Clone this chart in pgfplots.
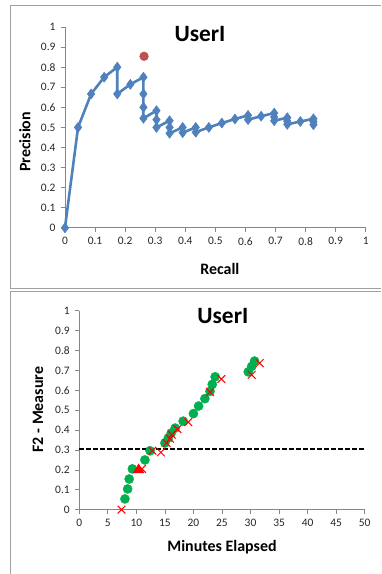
\documentclass[border=0pt]{standalone}
\usepackage{pgfplots}
\pgfplotsset{compat=1.18}
\usepackage{fontspec}
\setmainfont{Carlito}
\definecolor{xblue}{HTML}{4F81BD}
\definecolor{xgreen}{HTML}{00B050}
\definecolor{xred}{HTML}{FF0000}
\definecolor{xdot}{HTML}{C0504D}
\definecolor{xaxis}{HTML}{868686}
\definecolor{xframe}{HTML}{A0A0A0}
\pgfplotsset{excel/.style={
  scale only axis, axis lines*=left,
  axis line style={xaxis, line width=0.7bp},
  tick style={xaxis, line width=0.7bp},
  tick align=outside, major tick length=4bp,
  tick label style={font=\fontsize{11.5}{13}\selectfont, text=black!85},
  /pgf/number format/assume math mode=true,
  clip=false,
  title style={anchor=center, font=\bfseries\fontsize{23.5}{26}\selectfont},
  xlabel style={anchor=center, font=\bfseries\fontsize{16}{18}\selectfont},
  ylabel style={anchor=center, font=\bfseries\fontsize{16}{18}\selectfont},
}}
\begin{document}
\begin{tikzpicture}
\path (0bp,0bp) rectangle (381bp,574bp);
\draw[xframe, line width=0.8bp] (381bp,569bp) -- (10bp,569bp) -- (10bp,285.3bp) -- (381bp,285.3bp);
\draw[xframe, line width=0.8bp] (381bp,282.5bp) -- (10bp,282.5bp) -- (10bp,0bp);
\begin{axis}[excel,
  at={(65bp,346bp)}, anchor=south west, width=301bp, height=201bp,
  xmin=0, xmax=1, ymin=0, ymax=1,
  xtick={0,0.1,...,1.01}, ytick={0,0.1,...,1.01},
  title={UserI}, title style={at={(axis description cs:0.449,0.935)}},
  xlabel={Recall}, xlabel style={at={(axis description cs:0.515,-0.204)}},
  ylabel={Precision}, ylabel style={at={(axis description cs:-0.133,0.428)}},
  xticklabel style={yshift=-2bp}, yticklabel style={xshift=-2bp},
]
\addplot[xblue, line width=2.6bp, mark=diamond*, mark size=5bp, mark options={solid, fill=xblue, draw=xblue, line width=0.5bp}] table {
0 0
0.0435 0.5
0.087 0.6667
0.1304 0.75
0.1739 0.8
0.1739 0.6667
0.2174 0.7143
0.2609 0.75
0.2609 0.6667
0.2609 0.6
0.2609 0.5455
0.3043 0.5833
0.3043 0.5385
0.3043 0.5
0.3478 0.5333
0.3478 0.5
0.3478 0.4706
0.3913 0.5
0.3913 0.4737
0.4348 0.5
0.4348 0.4762
0.4783 0.5
0.5217 0.5217
0.5652 0.5417
0.6087 0.56
0.6087 0.5385
0.6522 0.5556
0.6957 0.5714
0.6957 0.5517
0.6957 0.5333
0.7391 0.5484
0.7391 0.5313
0.7391 0.5152
0.7826 0.5294
0.8261 0.5429
0.8261 0.5278
0.8261 0.5135
};
\addplot[only marks, mark=*, mark size=4.4bp, mark options={fill=xdot, draw=xdot}] coordinates {(0.263,0.854)};
\end{axis}
\begin{axis}[excel,
  at={(79.3bp,64bp)}, anchor=south west, width=285.7bp, height=199bp,
  xmin=0, xmax=50, ymin=0, ymax=1,
  xtick={0,5,...,50}, ytick={0,0.1,...,1.01},
  title={UserI}, title style={at={(axis description cs:0.503,0.945)}},
  xlabel={Minutes Elapsed}, xlabel style={at={(axis description cs:0.5,-0.191)}},
  ylabel={F2 - Measure}, ylabel style={at={(axis description cs:-0.145,0.503)}},
  xticklabel style={yshift=-2bp}, yticklabel style={xshift=-2bp},
]
\addplot[black, line width=1.8bp, dash pattern=on 4.5bp off 2.5bp] coordinates {(0,0.305) (50,0.305)};
\addplot[only marks, mark=*, mark size=4.6bp, mark options={fill=xgreen, draw=xgreen}] table {
8.0 0.054
8.47 0.104
8.75 0.154
9.3 0.205
11.5 0.25
12.4 0.296
15.0 0.335
15.6 0.36
16.1 0.385
16.8 0.41
18.2 0.445
20.0 0.483
20.9 0.521
22.0 0.558
22.9 0.595
23.3 0.63
23.8 0.668
29.6 0.693
30.2 0.72
30.7 0.747
};
\addplot[only marks, mark=x, mark size=5.5bp, mark options={draw=xred, line width=1bp}] table {
7.4 0
11.0 0.205
12.8 0.296
14.3 0.288
15.3 0.335
15.9 0.357
16.2 0.377
17.2 0.405
19.1 0.44
22.9 0.591
24.9 0.657
30.2 0.678
31.6 0.737
};
\addplot[only marks, mark=triangle*, mark size=6bp, mark options={fill=xred, draw=xred}] coordinates {(10.4,0.2)};
\end{axis}
\end{tikzpicture}
\end{document}
